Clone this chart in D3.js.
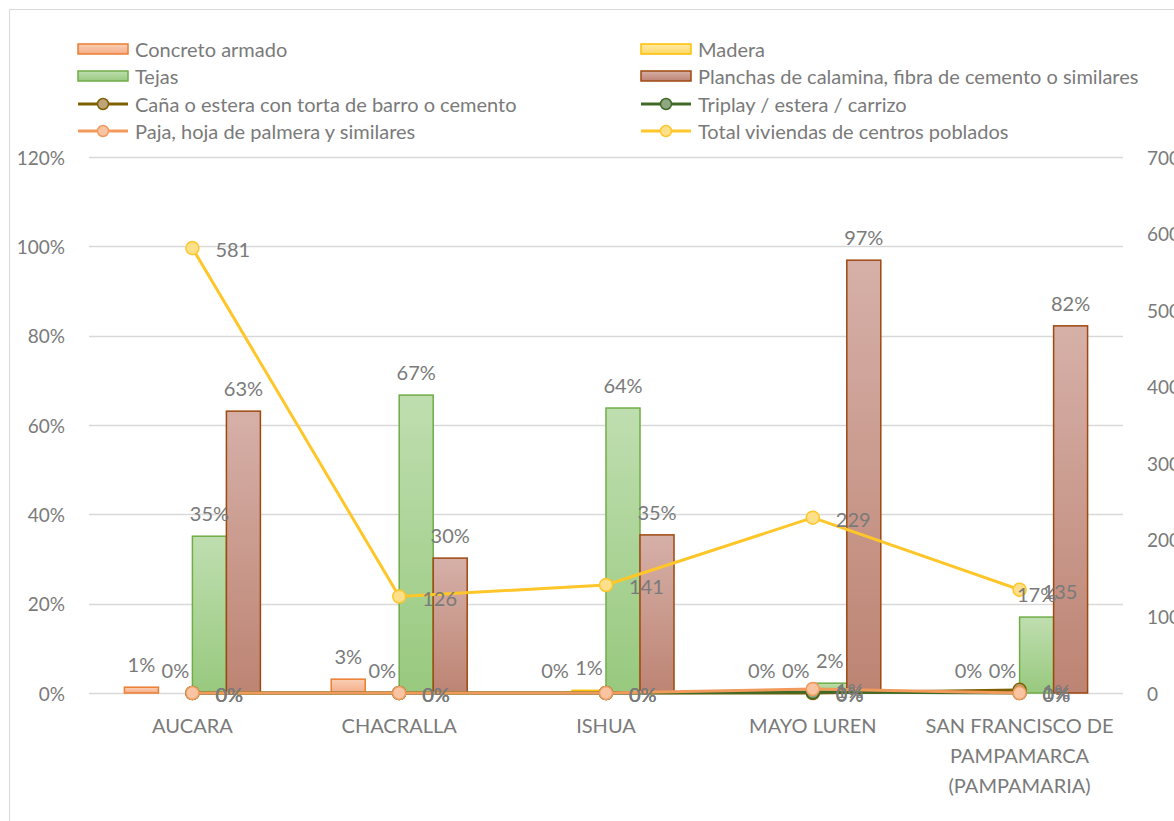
<!DOCTYPE html>
<html>
<head>
<meta charset="utf-8">
<script src="https://cdn.jsdelivr.net/npm/d3@7"></script>
<style>
  body { margin: 0; background: #fff; }
  svg { display: block; font-family: Lato, "Open Sans", sans-serif; }
</style>
</head>
<body>
<svg id="chart" width="1174" height="821"></svg>
<script>
// categories and series
const categories = ["AUCARA", "CHACRALLA", "ISHUA", "MAYO LUREN", "SAN FRANCISCO DE PAMPAMARCA (PAMPAMARIA)"];
const catLines = [["AUCARA"], ["CHACRALLA"], ["ISHUA"], ["MAYO LUREN"], ["SAN FRANCISCO DE", "PAMPAMARCA", "(PAMPAMARIA)"]];

const concreto = [0.013, 0.031, 0.0, 0.0, 0.0];
const madera   = [0.0, 0.0, 0.006, 0.0, 0.0];
const tejas    = [0.351, 0.667, 0.638, 0.022, 0.170];
const planchas = [0.631, 0.302, 0.354, 0.969, 0.822];
const cana     = [0.0, 0.0, 0.0, 0.0, 0.007];
const triplay  = [0.0, 0.0, 0.0, 0.002, 0.0];
const paja     = [0.0, 0.0, 0.0, 0.009, 0.0];
const total    = [581, 126, 141, 229, 135];

const leftTicks = [0, 0.2, 0.4, 0.6, 0.8, 1.0, 1.2];
const rightTicks = [0, 100, 200, 300, 400, 500, 600, 700];

// layout
const plot = {left: 89, right: 1123, top: 157, bottom: 693};
const textCol = "#7a7a7a";
const gridCol = "#d9d9d9";

const svg = d3.select("#chart");

// chart frame (cut by the page edge)
svg.append("rect")
  .attr("x", 9.5).attr("y", 9.5)
  .attr("width", 1300).attr("height", 1000)
  .attr("fill", "none").attr("stroke", gridCol);

//////////////////////////
// scales
//////////////////////////
let x = d3.scaleBand().domain(categories).range([plot.left, plot.right]);
let yL = d3.scaleLinear().domain([0, 1.2]).range([plot.bottom, plot.top]);
let yR = d3.scaleLinear().domain([0, 700]).range([plot.bottom, plot.top]);

const barSeries = [
  {name: "Concreto armado", values: concreto, top: "#fad0b6", bot: "#f4ac87", stroke: "#ed7d31"},
  {name: "Madera", values: madera, top: "#ffe9a6", bot: "#ffd966", stroke: "#ffc000"},
  {name: "Tejas", values: tejas, top: "#bfdeb0", bot: "#98c97e", stroke: "#70ad47"},
  {name: "Planchas de calamina, fibra de cemento o similares", values: planchas, top: "#d6b0a8", bot: "#bd8473", stroke: "#9e480e"}
];
const lineSeries = [
  {name: "Caña o estera con torta de barro o cemento", values: cana, stroke: "#7f6000", fill: "#bfa37a", axis: "L"},
  {name: "Triplay / estera / carrizo", values: triplay, stroke: "#3f6a26", fill: "#8fa883", axis: "L"},
  {name: "Paja, hoja de palmera y similares", values: paja, stroke: "#f19a5c", fill: "#f8c4a2", axis: "L"},
  {name: "Total viviendas de centros poblados", values: total, stroke: "#ffc62a", fill: "#ffe08a", axis: "R"}
];

// gradients
const defs = svg.append("defs");
barSeries.forEach((s, i) => {
  let g = defs.append("linearGradient").attr("id", "grad" + i)
    .attr("x1", 0).attr("y1", 0).attr("x2", 0).attr("y2", 1);
  g.append("stop").attr("offset", 0).attr("stop-color", s.top);
  g.append("stop").attr("offset", 1).attr("stop-color", s.bot);
});

//////////////////////////
// grid and axes
//////////////////////////
svg.append("g").selectAll("line")
  .data(leftTicks)
  .enter().append("line")
  .attr("x1", plot.left).attr("x2", plot.right)
  .attr("y1", d => Math.round(yL(d)) + 0.5).attr("y2", d => Math.round(yL(d)) + 0.5)
  .attr("stroke", gridCol).attr("stroke-width", 1.5);

svg.append("g").selectAll("text")
  .data(leftTicks)
  .enter().append("text")
  .attr("x", 65).attr("y", d => yL(d))
  .attr("text-anchor", "end").attr("dominant-baseline", "central")
  .attr("font-size", 19).attr("fill", textCol)
  .text(d3.format(".0%"));

svg.append("g").selectAll("text")
  .data(rightTicks)
  .enter().append("text")
  .attr("x", 1147).attr("y", d => yR(d))
  .attr("dominant-baseline", "central")
  .attr("font-size", 19).attr("fill", textCol)
  .text(d => d);

// category labels
let catG = svg.append("g").selectAll("text")
  .data(categories)
  .enter().append("text")
  .attr("text-anchor", "middle")
  .attr("font-size", 20).attr("fill", textCol);
catG.selectAll("tspan")
  .data((d, i) => catLines[i].map(t => ({t: t, c: d})))
  .enter().append("tspan")
  .attr("x", d => x(d.c) + x.bandwidth() / 2)
  .attr("y", (d, j) => 725 + j * 30)
  .attr("dominant-baseline", "central")
  .text(d => d.t);

//////////////////////////
// bars
//////////////////////////
// group of 4 bars of ~34px centred in each band
const barW = 34;
const groupOff = (x.bandwidth() - barW * barSeries.length) / 2;

barSeries.forEach((s, i) => {
  let g = svg.append("g");
  g.selectAll("rect")
    .data(s.values)
    .enter().append("rect")
    .attr("x", (d, k) => x(categories[k]) + groupOff + i * barW)
    .attr("y", d => yL(d))
    .attr("width", barW)
    .attr("height", d => plot.bottom - yL(d))
    .attr("fill", "url(#grad" + i + ")")
    .attr("stroke", s.stroke).attr("stroke-width", 1.5);
});

//////////////////////////
// lines
//////////////////////////
const cx = k => x(categories[k]) + x.bandwidth() / 2;
lineSeries.forEach(s => {
  let yS = s.axis === "L" ? yL : yR;
  let line = d3.line().x((d, k) => cx(k)).y(d => yS(d));
  svg.append("path")
    .datum(s.values)
    .attr("d", line)
    .attr("fill", "none").attr("stroke", s.stroke)
    .attr("stroke-width", 3).attr("stroke-linejoin", "round");
  svg.append("g").selectAll("circle")
    .data(s.values)
    .enter().append("circle")
    .attr("cx", (d, k) => cx(k)).attr("cy", d => yS(d))
    .attr("r", 6.5)
    .attr("fill", s.fill).attr("stroke", s.stroke).attr("stroke-width", 1.5);
});

//////////////////////////
// data labels
//////////////////////////
barSeries.forEach((s, i) => {
  svg.append("g").selectAll("text")
    .data(s.values)
    .enter().append("text")
    .attr("x", (d, k) => x(categories[k]) + groupOff + i * barW + barW / 2)
    .attr("y", d => yL(d) - 15)
    .attr("text-anchor", "middle")
    .attr("font-size", 20).attr("fill", textCol)
    .text(d3.format(".0%"));
});
lineSeries.forEach(s => {
  let yS = s.axis === "L" ? yL : yR;
  svg.append("g").selectAll("text")
    .data(s.values)
    .enter().append("text")
    .attr("x", (d, k) => cx(k) + 23)
    .attr("y", d => yS(d) + 1)
    .attr("dominant-baseline", "central")
    .attr("font-size", 20).attr("fill", textCol)
    .text(d => s.axis === "L" ? d3.format(".0%")(d) : d);
});

//////////////////////////
// legend
//////////////////////////
const legendItems = [
  {s: barSeries[0], type: "bar", col: 0, row: 0},
  {s: barSeries[1], type: "bar", col: 1, row: 0},
  {s: barSeries[2], type: "bar", col: 0, row: 1},
  {s: barSeries[3], type: "bar", col: 1, row: 1},
  {s: lineSeries[0], type: "line", col: 0, row: 2},
  {s: lineSeries[1], type: "line", col: 1, row: 2},
  {s: lineSeries[2], type: "line", col: 0, row: 3},
  {s: lineSeries[3], type: "line", col: 1, row: 3}
];
const legX = [78, 641];
const legY = [49, 76, 104, 131];

let leg = svg.append("g").selectAll("g")
  .data(legendItems)
  .enter().append("g")
  .attr("transform", d => `translate(${legX[d.col]},${legY[d.row]})`);

leg.filter(d => d.type === "bar").append("rect")
  .attr("x", 0).attr("y", -5).attr("width", 50).attr("height", 10)
  .attr("fill", d => "url(#grad" + barSeries.indexOf(d.s) + ")")
  .attr("stroke", d => d.s.stroke).attr("stroke-width", 1.5);
leg.filter(d => d.type === "line").append("line")
  .attr("x1", 0).attr("x2", 50).attr("y1", 0).attr("y2", 0)
  .attr("stroke", d => d.s.stroke).attr("stroke-width", 3);
leg.filter(d => d.type === "line").append("circle")
  .attr("cx", 25).attr("cy", 0).attr("r", 5.5)
  .attr("fill", d => d.s.fill).attr("stroke", d => d.s.stroke).attr("stroke-width", 1.5);
leg.append("text")
  .attr("x", 57).attr("y", 0)
  .attr("dominant-baseline", "central")
  .attr("font-size", 20).attr("fill", textCol)
  .text(d => d.s.name);
</script>
</body>
</html>
